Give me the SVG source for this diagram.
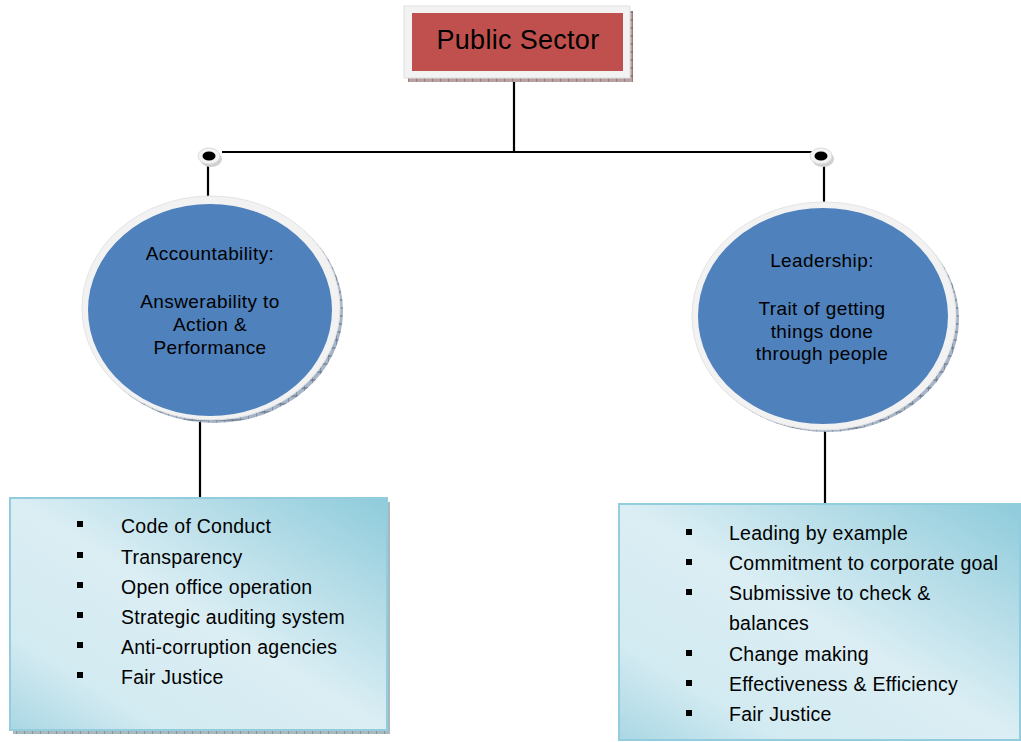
<svg xmlns="http://www.w3.org/2000/svg" width="1021" height="742" viewBox="0 0 1021 742">
<style>
  .line { stroke: #000; stroke-width: 2.2; fill: none; }
  .frame { fill: #f2f2f2; stroke: #e0e0e0; stroke-width: 1; }
  .ctext { font-family: "Liberation Sans", Arial, sans-serif; font-size: 19px; letter-spacing: 0.4px; fill: #000; text-anchor: middle; }
  .ltext { font-family: "Liberation Sans", Arial, sans-serif; font-size: 19.5px; letter-spacing: 0.25px; fill: #000; }
  .bullet { fill: #000; }
</style>
<defs>
  <pattern id="hatch" width="8" height="8" patternUnits="userSpaceOnUse">
    <rect width="8" height="8" fill="#b8a0a0"/>
    <path d="M0 0 L0 8 M0 4 L8 4" stroke="#7a5a5a" stroke-width="1"/>
  </pattern>
  <pattern id="hatchBlue" width="8" height="8" patternUnits="userSpaceOnUse">
    <rect width="8" height="8" fill="#a6b4c8"/>
    <path d="M0 0 L0 8 M0 4 L8 4" stroke="#5a6a80" stroke-width="1"/>
  </pattern>
  <pattern id="hatchTeal" width="8" height="8" patternUnits="userSpaceOnUse">
    <rect width="8" height="8" fill="#a8b8bc"/>
    <path d="M0 0 L0 8" stroke="#4e7a86" stroke-width="1"/>
  </pattern>
  <linearGradient id="boxGrad" x1="1" y1="0" x2="0" y2="1">
    <stop offset="0" stop-color="#8ecbdb"/>
    <stop offset="0.5" stop-color="#dbeef4"/>
    <stop offset="0.8" stop-color="#d2eaf1"/>
    <stop offset="1" stop-color="#a9d7e4"/>
  </linearGradient>
</defs>

<g id="connectors">
  <line class="line" x1="514" y1="79" x2="514" y2="152"/>
  <line class="line" x1="222" y1="152" x2="812" y2="152"/>
  <line class="line" x1="208" y1="162" x2="208" y2="197"/>
  <line class="line" x1="824" y1="162" x2="824" y2="203"/>
  <line class="line" x1="200" y1="420" x2="200" y2="498"/>
  <line class="line" x1="825" y1="427" x2="825" y2="503"/>
  <g id="dot-left">
    <ellipse cx="211" cy="159" rx="11" ry="8" fill="#d0d0d0"/>
    <ellipse cx="209" cy="156" rx="11" ry="8" fill="#f4f4f4" stroke="#dcdcdc" stroke-width="1"/>
    <ellipse cx="209" cy="156" rx="6.5" ry="4.5" fill="#000"/>
  </g>
  <g id="dot-right">
    <ellipse cx="823" cy="159" rx="11" ry="8" fill="#d0d0d0"/>
    <ellipse cx="821" cy="156" rx="11" ry="8" fill="#f4f4f4" stroke="#dcdcdc" stroke-width="1"/>
    <ellipse cx="821" cy="156" rx="6.5" ry="4.5" fill="#000"/>
  </g>
</g>

<g id="node-public-sector">
  <rect x="408" y="11" width="225" height="71" fill="url(#hatch)"/>
  <rect class="frame" x="404" y="6" width="226" height="72"/>
  <rect x="412" y="13" width="211" height="58" fill="#c0504d"/>
  <text x="518" y="49" font-family="'Liberation Sans', Arial, sans-serif" font-size="27" letter-spacing="0.3" text-anchor="middle" fill="#000">Public Sector</text>
</g>

<g id="node-accountability">
  <ellipse cx="214" cy="311" rx="129" ry="112" fill="url(#hatchBlue)"/>
  <ellipse cx="211" cy="308" rx="129" ry="112" fill="#f2f2f2" stroke="#e4e4e4" stroke-width="1"/>
  <ellipse cx="210" cy="310" rx="122" ry="106" fill="#4f81bd"/>
  <text class="ctext" x="210" y="260">Accountability:</text>
  <text class="ctext" x="210" y="308">Answerability to</text>
  <text class="ctext" x="210" y="331">Action &amp;</text>
  <text class="ctext" x="210" y="354">Performance</text>
</g>

<g id="node-leadership">
  <ellipse cx="827" cy="319" rx="132" ry="113" fill="url(#hatchBlue)"/>
  <ellipse cx="824" cy="316" rx="132" ry="114" fill="#f2f2f2" stroke="#e4e4e4" stroke-width="1"/>
  <ellipse cx="823" cy="316" rx="125" ry="108" fill="#4f81bd"/>
  <text class="ctext" x="822" y="267">Leadership:</text>
  <text class="ctext" x="822" y="315">Trait of getting</text>
  <text class="ctext" x="822" y="338">things done</text>
  <text class="ctext" x="822" y="360">through people</text>
</g>

<g id="node-accountability-list">
  <rect x="13" y="502" width="377" height="232" fill="url(#hatchTeal)"/>
  <rect x="10" y="498" width="377" height="232" fill="url(#boxGrad)" stroke="#93cddd" stroke-width="2"/>
  <rect class="bullet" x="77" y="521" width="6" height="6"/>
  <text class="ltext" x="121" y="533">Code of Conduct</text>
  <rect class="bullet" x="77" y="552" width="6" height="6"/>
  <text class="ltext" x="121" y="564">Transparency</text>
  <rect class="bullet" x="77" y="582" width="6" height="6"/>
  <text class="ltext" x="121" y="594">Open office operation</text>
  <rect class="bullet" x="77" y="612" width="6" height="6"/>
  <text class="ltext" x="121" y="624">Strategic auditing system</text>
  <rect class="bullet" x="77" y="642" width="6" height="6"/>
  <text class="ltext" x="121" y="654">Anti-corruption agencies</text>
  <rect class="bullet" x="77" y="672" width="6" height="6"/>
  <text class="ltext" x="121" y="684">Fair Justice</text>
</g>

<g id="node-leadership-list">
  <rect x="619" y="504" width="401" height="236" fill="url(#boxGrad)" stroke="#93cddd" stroke-width="2"/>
  <rect class="bullet" x="686" y="529" width="6" height="6"/>
  <text class="ltext" x="729" y="540">Leading by example</text>
  <rect class="bullet" x="686" y="559" width="6" height="6"/>
  <text class="ltext" x="729" y="570">Commitment to corporate goal</text>
  <rect class="bullet" x="686" y="589" width="6" height="6"/>
  <text class="ltext" x="729" y="600">Submissive to check &amp;</text>
  <text class="ltext" x="729" y="630">balances</text>
  <rect class="bullet" x="686" y="650" width="6" height="6"/>
  <text class="ltext" x="729" y="661">Change making</text>
  <rect class="bullet" x="686" y="680" width="6" height="6"/>
  <text class="ltext" x="729" y="691">Effectiveness &amp; Efficiency</text>
  <rect class="bullet" x="686" y="710" width="6" height="6"/>
  <text class="ltext" x="729" y="721">Fair Justice</text>
</g>
</svg>
